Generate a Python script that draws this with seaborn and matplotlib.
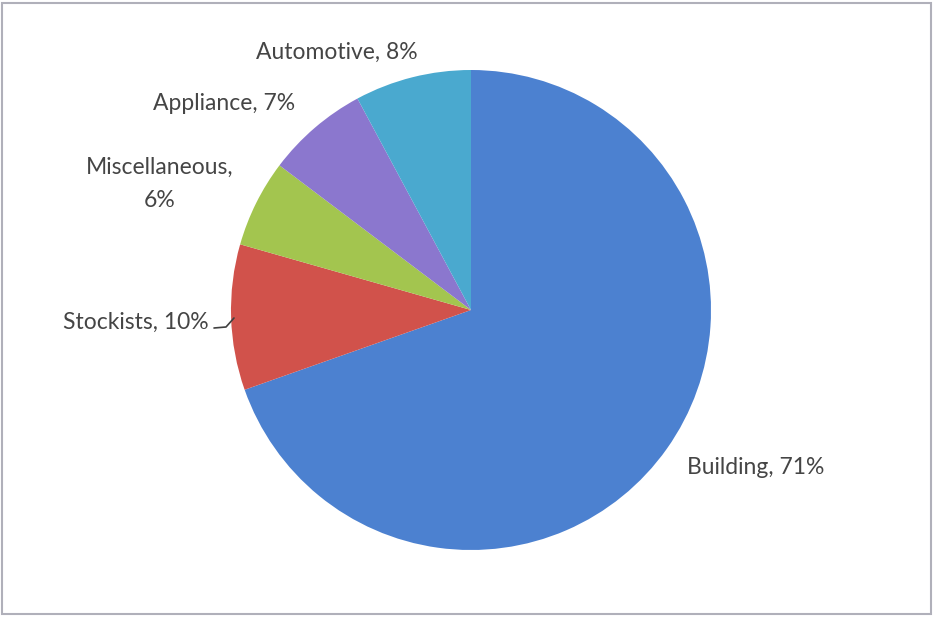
import matplotlib
matplotlib.use("Agg")
import matplotlib.pyplot as plt
import seaborn as sns
from matplotlib.patches import Rectangle
from matplotlib.lines import Line2D

categories = ["Building", "Stockists", "Miscellaneous", "Appliance", "Automotive"]
values = [71, 10, 6, 7, 8]
label_texts = ["Building, 71%", "Stockists, 10%", "Miscellaneous,\n6%", "Appliance, 7%", "Automotive, 8%"]
colors = sns.color_palette(["#4c81d0", "#d1524b", "#a3c54f", "#8b77ce", "#4aa9cf"])

sns.set_theme(style="white")
plt.rcParams['font.family'] = ['Lato', 'DejaVu Sans']

W, H = 933, 617
fig = plt.figure(figsize=(W / 100, H / 100), dpi=100)
fig.patch.set_facecolor("white")

cx, cy, r = 471, 310, 240
ax = fig.add_axes([(cx - r) / W, (H - cy - r) / H, 2 * r / W, 2 * r / H])
ax.pie(values, colors=colors, startangle=90, counterclock=False, radius=1,
       wedgeprops=dict(linewidth=0))
ax.set_xlim(-1, 1)
ax.set_ylim(-1, 1)
ax.set_aspect("equal")
ax.axis("off")

txt_color = "#454545"
fs = 16.5
# label anchor positions in pixels (x, y from top), ha
positions = [(756, 468, "center"), (209, 322, "right"), (160, 184, "center"),
             (224, 103, "center"), (337, 52, "center")]
for lab, (x, y, ha) in zip(label_texts, positions):
    fig.text(x / W, 1 - y / H, lab, ha=ha, va="center", fontsize=fs,
             color=txt_color, linespacing=1.75)

# leader line for Stockists
xs = [214 / W, 226 / W, 234 / W]
ys = [1 - 328 / H, 1 - 327 / H, 1 - 318 / H]
fig.add_artist(Line2D(xs, ys, color="#404040", lw=1.2, transform=fig.transFigure))

# outer frame
fig.add_artist(Rectangle((2 / W, 3 / H), (W - 4) / W, (H - 6) / H, fill=False,
                         edgecolor="#b0b0ba", lw=1.5, transform=fig.transFigure))

fig.savefig("out.png", dpi=100, facecolor="white")
